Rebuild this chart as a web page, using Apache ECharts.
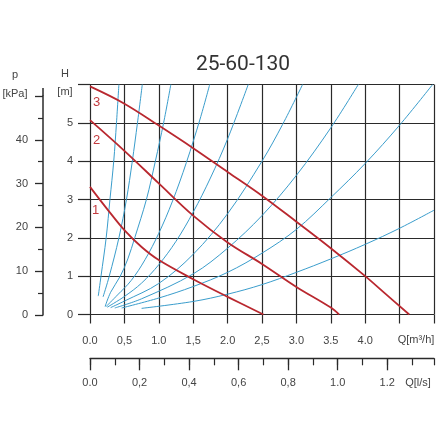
<!DOCTYPE html>
<html>
<head>
<meta charset="utf-8">
<script src="https://cdn.jsdelivr.net/npm/echarts@6/dist/echarts.min.js"></script>
<style>
html,body{margin:0;padding:0;background:#fff;}
#c{width:445px;height:445px;}
</style>
</head>
<body>
<div id="c"></div>
<script>
// ---- tick labels ----
const qLabels = ['0.0','0,5','1.0','1,5','2.0','2,5','3.0','3.5','4.0','',''];
const hLabels = ['0','1','2','3','4','5',''];
const lsLabels = ['0.0','0,2','0,4','0,6','0,8','1.0','1.2'];
const pLabels = ['0','10','20','30','40','50'];

// ---- pump curves (Q m3/h, H m) ----
const pump1 = [[0,3.33],[0.25,2.75],[0.5,2.2],[0.75,1.76],[1.0,1.42],[1.5,0.92],[2.0,0.46],[2.52,0]];
const pump2 = [[0,5.07],[0.5,4.27],[1.0,3.42],[1.5,2.58],[2.0,1.88],[2.5,1.32],[3.0,0.72],[3.5,0.18],[3.62,0]];
const pump3 = [[0,5.95],[0.5,5.5],[1.0,4.93],[1.5,4.34],[2.0,3.72],[2.5,3.1],[3.0,2.42],[3.5,1.73],[4.0,1.0],[4.3,0.53],[4.64,0]];

// ---- system curves ----
const sys1 = [[0.12,0.48],[0.16,1],[0.235,2],[0.29,3],[0.345,4],[0.385,5],[0.42,6]];
const sys2 = [[0.19,0.46],[0.28,1],[0.42,2],[0.53,3],[0.615,4],[0.69,5],[0.76,6]];
const sys3 = [[0.22,0.21],[0.3,0.58],[0.44,1.0],[0.55,1.45],[0.65,2.0],[0.82,3.0],[0.95,4.0],[1.07,5.0],[1.175,6.0]];
const sys4 = [[0.23,0.2],[0.4,0.51],[0.6,0.89],[0.8,1.43],[1.0,2.12],[1.2,2.96],[1.4,3.96],[1.6,5.1],[1.74,6.0]];
const sys5 = [[0.25,0.19],[0.5,0.47],[0.75,0.82],[1.0,1.3],[1.25,1.91],[1.5,2.67],[1.75,3.56],[2.0,4.58],[2.3,6.0]];
const sys6 = [[0.3,0.18],[0.5,0.35],[1.0,0.81],[1.5,1.57],[2.0,2.63],[2.5,4.0],[2.8,4.96],[3.09,6.0]];
const sys7 = [[0.36,0.17],[0.75,0.41],[1.5,1.06],[2.0,1.73],[2.5,2.58],[3.0,3.63],[3.5,4.87],[3.9,6.0]];
const sys8 = [[0.46,0.17],[1.0,0.43],[1.5,0.73],[2.0,1.1],[2.5,1.6],[3.0,2.22],[3.5,3.05],[4.0,3.94],[4.5,4.94],[4.98,6.0]];
const sys9 = [[0.75,0.16],[1.5,0.34],[2.0,0.53],[2.5,0.78],[3.0,1.1],[3.5,1.45],[4.0,1.83],[4.5,2.25],[5.0,2.72]];

const systemCurves = [sys1,sys2,sys3,sys4,sys5,sys6,sys7,sys8,sys9];
const pumpCurves = [pump1,pump2,pump3];

const GRID = '#2a2a2a';
const TXT = '#444';
const BLUE = '#3a9dcc';
const RED = '#b9282f';
const FONT = 'Liberation Sans';

const chart = echarts.init(document.getElementById('c'), null, {renderer:'canvas'});

const series = [];
systemCurves.forEach(d => series.push({
  type:'line', xAxisIndex:0, yAxisIndex:0, data:d, smooth:0.35, symbol:'none',
  lineStyle:{color:BLUE, width:1}, silent:true, z:3
}));
pumpCurves.forEach(d => series.push({
  type:'line', xAxisIndex:0, yAxisIndex:0, data:d, smooth:0.35, symbol:'none',
  lineStyle:{color:RED, width:1.8}, silent:true, z:4
}));

const option = {
  animation:false,
  backgroundColor:'#fff',
  grid:[
    {left:90, top:84.5, width:344, height:230},
    {left:90, top:300, width:344, height:58.3},
    {left:43, top:96, width:1, height:219},
    {left:90, top:300, width:344, height:58.3}
  ],
  xAxis:[
    {gridIndex:0, type:'value', position:'bottom', min:0, max:5, interval:0.5,
     axisLine:{show:false},
     axisTick:{show:true, length:9, inside:false, lineStyle:{color:GRID, width:1.2}},
     splitLine:{show:true, lineStyle:{color:GRID, width:1.2}},
     axisLabel:{margin:21, color:TXT, fontSize:11, fontFamily:FONT,
       formatter:v => qLabels[Math.round(v/0.5)] || ''}},
    {gridIndex:1, type:'value', position:'bottom', min:0, max:5/3.6, interval:0.2,
     axisLine:{show:true, lineStyle:{color:GRID, width:1.3}},
     axisTick:{show:true, length:12, inside:false, lineStyle:{color:GRID, width:1.3}},
     splitLine:{show:false},
     axisLabel:{margin:19, color:TXT, fontSize:11, fontFamily:FONT, showMaxLabel:false,
       formatter:v => { const i = Math.round(v/0.2); return Math.abs(v - i*0.2) < 1e-6 ? (lsLabels[i] || '') : ''; }}},
    {gridIndex:3, type:'value', position:'bottom', min:0, max:5/3.6, interval:0.1,
     axisLine:{show:false},
     axisTick:{show:true, length:7, inside:false, lineStyle:{color:GRID, width:1.2}},
     splitLine:{show:false},
     axisLabel:{show:false}},
    {gridIndex:2, type:'value', min:0, max:1, show:false}
  ],
  yAxis:[
    {gridIndex:0, type:'value', min:0, max:6, interval:1,
     axisLine:{show:false},
     axisTick:{show:true, length:12, inside:false, lineStyle:{color:GRID, width:1.2}},
     splitLine:{show:true, lineStyle:{color:GRID, width:1.2}},
     axisLabel:{margin:17, color:TXT, fontSize:11, fontFamily:FONT,
       formatter:v => hLabels[Math.round(v)] || ''}},
    {gridIndex:1, type:'value', min:0, max:1, show:false},
    {gridIndex:2, type:'value', min:0, max:50, interval:10, position:'left',
     axisLine:{show:true, lineStyle:{color:GRID, width:1.5}},
     axisTick:{show:true, length:8, inside:false, lineStyle:{color:GRID, width:1.3}},
     minorTick:{show:true, splitNumber:2, length:5, lineStyle:{color:GRID, width:1.2}},
     splitLine:{show:false},
     axisLabel:{margin:15, color:TXT, fontSize:11, fontFamily:FONT,
       formatter:v => (v < 50 ? (pLabels[Math.round(v/10)] || '') : '')}},
    {gridIndex:3, type:'value', min:0, max:1, show:false}
  ],
  series: series,
  graphic:[
    {type:'text', x:243, y:64.5, style:{text:'25-60-130', font:'21px Roboto', fill:'#333', align:'center', verticalAlign:'middle'}},
    {type:'line', shape:{x1:43, y1:96, x2:43, y2:88}, style:{stroke:GRID, lineWidth:1.5}},
    {type:'text', x:15, y:75, style:{text:'p', font:'11px "Liberation Sans"', fill:TXT, align:'center', verticalAlign:'middle'}},
    {type:'text', x:15, y:94, style:{text:'[kPa]', font:'11px "Liberation Sans"', fill:TXT, align:'center', verticalAlign:'middle'}},
    {type:'text', x:65, y:74, style:{text:'H', font:'11px "Liberation Sans"', fill:TXT, align:'center', verticalAlign:'middle'}},
    {type:'text', x:65, y:92, style:{text:'[m]', font:'11px "Liberation Sans"', fill:TXT, align:'center', verticalAlign:'middle'}},
    {type:'text', x:416, y:340, style:{text:'Q[m³/h]', font:'11px "Liberation Sans"', fill:TXT, align:'center', verticalAlign:'middle'}},
    {type:'text', x:418, y:383, style:{text:'Q[l/s]', font:'11px "Liberation Sans"', fill:TXT, align:'center', verticalAlign:'middle'}},
    {type:'text', x:96.5, y:102, style:{text:'3', font:'13px "Liberation Sans"', fill:'#c23a3e', align:'center', verticalAlign:'middle'}},
    {type:'text', x:96.5, y:140, style:{text:'2', font:'13px "Liberation Sans"', fill:'#c23a3e', align:'center', verticalAlign:'middle'}},
    {type:'text', x:95.5, y:210, style:{text:'1', font:'13px "Liberation Sans"', fill:'#c23a3e', align:'center', verticalAlign:'middle'}}
  ]
};
chart.setOption(option);
</script>
</body>
</html>
